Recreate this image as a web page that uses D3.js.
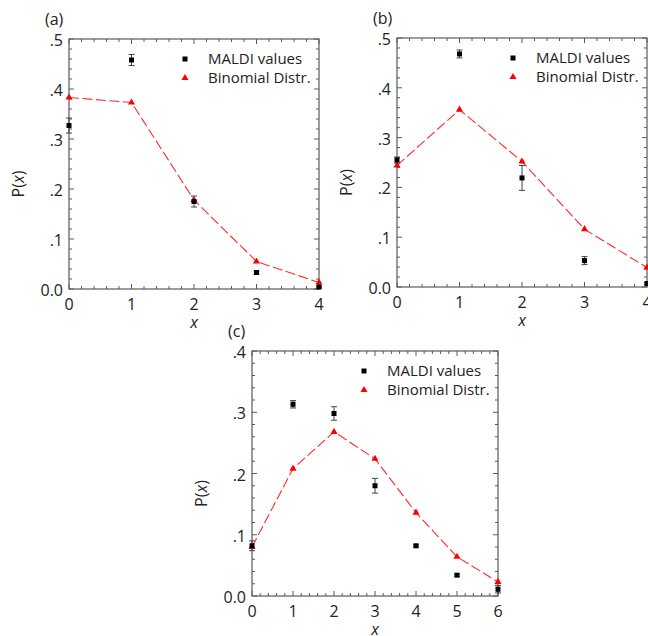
<!DOCTYPE html>
<html>
<head>
<meta charset="utf-8">
<script src="https://cdn.jsdelivr.net/npm/d3@7"></script>
<style>
  body { margin: 0; background: #fff; }
  svg text { font-family: "Open Sans", sans-serif; fill: #222; }
</style>
</head>
<body>
<div id="chart"></div>
<script>
// Panel (a)
const xA = [0, 1, 2, 3, 4];
const maldiA = [0.327, 0.458, 0.175, 0.033, 0.004];
const errA = [0.015, 0.011, 0.011, 0.003, 0.002];
const binomA = [0.383, 0.373, 0.178, 0.055, 0.013];

// Panel (b)
const xB = [0, 1, 2, 3, 4];
const maldiB = [0.255, 0.468, 0.219, 0.053, 0.007];
const errB = [0.006, 0.008, 0.025, 0.008, 0.002];
const binomB = [0.244, 0.356, 0.252, 0.116, 0.039];

// Panel (c)
const xC = [0, 1, 2, 3, 4, 5, 6];
const maldiC = [0.082, 0.313, 0.298, 0.180, 0.082, 0.034, 0.011];
const errC = [0.008, 0.006, 0.011, 0.012, 0.002, 0.002, 0.006];
const binomC = [0.080, 0.208, 0.268, 0.224, 0.136, 0.064, 0.023];

const yTicksAB = [0, 0.1, 0.2, 0.3, 0.4, 0.5];
const yTicksC = [0, 0.1, 0.2, 0.3, 0.4];
const legendLabels = ["MALDI values", "Binomial Distr."];

const W = 648, H = 636;
const svg = d3.select("#chart").append("svg")
    .attr("width", W).attr("height", H);

const panels = [
    { tag: "(a)", xs: xA, maldi: maldiA, err: errA, binom: binomA, yMax: 0.5, yTicks: yTicksAB,
      box: { left: 69, top: 39, right: 319, bottom: 289 } },
    { tag: "(b)", xs: xB, maldi: maldiB, err: errB, binom: binomB, yMax: 0.5, yTicks: yTicksAB,
      box: { left: 397, top: 38, right: 647, bottom: 287 } },
    { tag: "(c)", xs: xC, maldi: maldiC, err: errC, binom: binomC, yMax: 0.4, yTicks: yTicksC,
      box: { left: 252, top: 351, right: 498, bottom: 596 } }
];

const axisColor = "#5a5a5a";
const yFmt = d => d === 0 ? "0.0" : d3.format(".1f")(d).replace(/^0/, "");

panels.forEach(p => {
    const b = p.box;
    const xMax = d3.max(p.xs);
    const x = d3.scaleLinear().domain([0, xMax]).range([b.left, b.right]);
    const y = d3.scaleLinear().domain([0, p.yMax]).range([b.bottom, b.top]);
    const g = svg.append("g");

    // frame
    g.append("rect")
        .attr("x", b.left).attr("y", b.top)
        .attr("width", b.right - b.left).attr("height", b.bottom - b.top)
        .attr("fill", "none").attr("stroke", axisColor).attr("stroke-width", 1.2);

    // ticks (inward, on all four sides)
    const xMinor = d3.range(0, xMax + 1e-9, 0.2);
    const yMinor = d3.range(0, p.yMax + 1e-9, 0.02);
    const isMajor = (v, step) => Math.abs(v / step - Math.round(v / step)) < 1e-6;

    xMinor.forEach(v => {
        const len = isMajor(v, 1) ? 5 : 3;
        [[b.bottom, -len], [b.top, len]].forEach(([y0, dy]) => {
            g.append("line")
                .attr("x1", x(v)).attr("x2", x(v))
                .attr("y1", y0).attr("y2", y0 + dy)
                .attr("stroke", axisColor).attr("stroke-width", 1);
        });
    });
    yMinor.forEach(v => {
        const len = isMajor(v, 0.1) ? 5 : 3;
        [[b.left, len], [b.right, -len]].forEach(([x0, dx]) => {
            g.append("line")
                .attr("x1", x0).attr("x2", x0 + dx)
                .attr("y1", y(v)).attr("y2", y(v))
                .attr("stroke", axisColor).attr("stroke-width", 1);
        });
    });

    // tick labels
    g.selectAll("text.xt").data(p.xs).enter().append("text")
        .attr("x", d => x(d)).attr("y", b.bottom + 21)
        .attr("text-anchor", "middle")
        .style("font-size", "16px")
        .text(d => d);
    g.selectAll("text.yt").data(p.yTicks).enter().append("text")
        .attr("x", b.left - 6).attr("y", d => y(d) + 7)
        .attr("text-anchor", "end")
        .style("font-size", "16px")
        .text(yFmt);

    // axis titles
    g.append("text")
        .attr("x", (b.left + b.right) / 2).attr("y", b.bottom + 39)
        .attr("text-anchor", "middle")
        .style("font-size", "16px").style("font-style", "italic")
        .text("x");
    const yt = g.append("text")
        .attr("transform", `translate(${b.left - 45},${(b.top + b.bottom) / 2 + 20}) rotate(-90)`)
        .attr("text-anchor", "middle")
        .style("font-size", "16px");
    yt.append("tspan").text("P(");
    yt.append("tspan").style("font-style", "italic").text("x");
    yt.append("tspan").text(")");

    // panel tag
    g.append("text")
        .attr("x", b.left - 24).attr("y", b.top - 14)
        .style("font-size", "16px")
        .text(p.tag);

    // binomial dashed line + triangles
    const pts = p.xs.map((v, i) => ({ x: v, y: p.binom[i] }));
    g.append("path")
        .datum(pts)
        .attr("d", d3.line().x(d => x(d.x)).y(d => y(d.y)))
        .attr("fill", "none").attr("stroke", "#ff2a2a")
        .attr("stroke-width", 1.1).attr("stroke-dasharray", "10,3.5");
    const tri = d3.symbol().type(d3.symbolTriangle).size(22);
    g.selectAll("path.tri").data(pts).enter().append("path")
        .attr("d", tri)
        .attr("transform", d => `translate(${x(d.x)},${y(d.y)})`)
        .attr("fill", "#ff0000");

    // MALDI points with error bars
    const md = p.xs.map((v, i) => ({ x: v, y: p.maldi[i], e: p.err[i] }));
    const eb = g.selectAll("g.eb").data(md).enter().append("g");
    eb.append("line")
        .attr("x1", d => x(d.x)).attr("x2", d => x(d.x))
        .attr("y1", d => y(d.y - d.e)).attr("y2", d => y(d.y + d.e))
        .attr("stroke", "#444").attr("stroke-width", 1);
    [-1, 1].forEach(s => {
        eb.append("line")
            .attr("x1", d => x(d.x) - 3).attr("x2", d => x(d.x) + 3)
            .attr("y1", d => y(d.y + s * d.e)).attr("y2", d => y(d.y + s * d.e))
            .attr("stroke", "#444").attr("stroke-width", 1);
    });
    eb.append("rect")
        .attr("x", d => x(d.x) - 2.5).attr("y", d => y(d.y) - 2.5)
        .attr("width", 5).attr("height", 5)
        .attr("fill", "#000");

    // legend
    const lx = b.right - 134, ly = b.top + 20;
    g.append("rect")
        .attr("x", lx - 2.5).attr("y", ly - 2.5).attr("width", 5).attr("height", 5)
        .attr("fill", "#000");
    g.append("path")
        .attr("d", tri).attr("transform", `translate(${lx},${ly + 19})`)
        .attr("fill", "#ff0000");
    legendLabels.forEach((t, i) => {
        g.append("text")
            .attr("x", lx + 23).attr("y", ly + i * 19 + 5)
            .style("font-size", "15px")
            .text(t);
    });
});
</script>
</body>
</html>
